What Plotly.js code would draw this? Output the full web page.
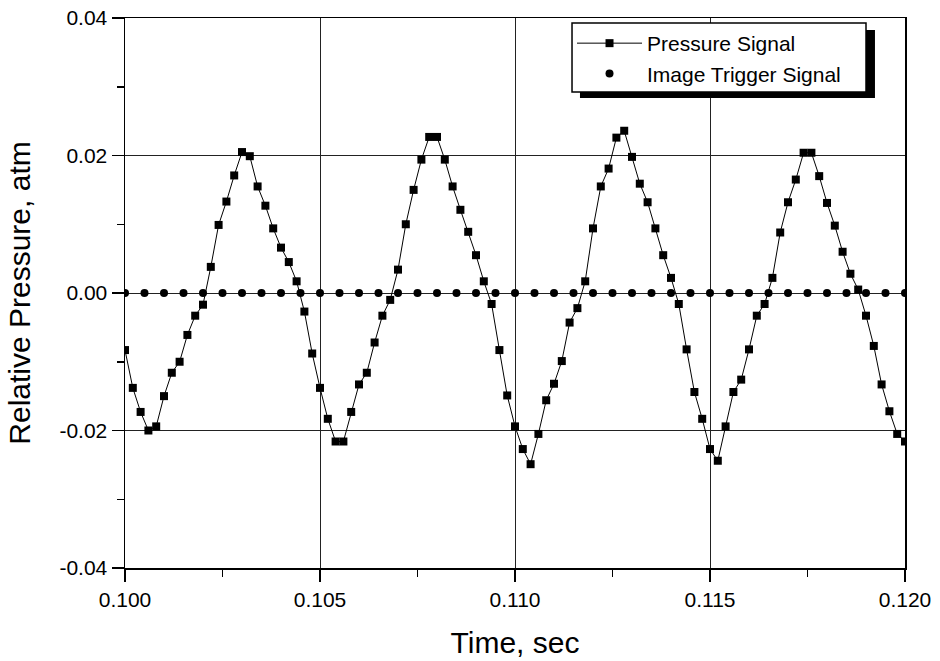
<!DOCTYPE html>
<html>
<head>
<meta charset="utf-8">
<script src="https://cdn.plot.ly/plotly-3.0.1.min.js"></script>
<style>html,body{margin:0;padding:0;background:#fff;}#chart{width:940px;height:661px;}</style>
</head>
<body>
<div id="chart"></div>
<script>
// Pressure signal sampled every 0.2 ms
var pressureTime = [
 0.1000,0.1002,0.1004,0.1006,0.1008,0.1010,0.1012,0.1014,0.1016,0.1018,
 0.1020,0.1022,0.1024,0.1026,0.1028,0.1030,0.1032,0.1034,0.1036,0.1038,
 0.1040,0.1042,0.1044,0.1046,0.1048,0.1050,0.1052,0.1054,0.1056,0.1058,
 0.1060,0.1062,0.1064,0.1066,0.1068,0.1070,0.1072,0.1074,0.1076,0.1078,
 0.1080,0.1082,0.1084,0.1086,0.1088,0.1090,0.1092,0.1094,0.1096,0.1098,
 0.1100,0.1102,0.1104,0.1106,0.1108,0.1110,0.1112,0.1114,0.1116,0.1118,
 0.1120,0.1122,0.1124,0.1126,0.1128,0.1130,0.1132,0.1134,0.1136,0.1138,
 0.1140,0.1142,0.1144,0.1146,0.1148,0.1150,0.1152,0.1154,0.1156,0.1158,
 0.1160,0.1162,0.1164,0.1166,0.1168,0.1170,0.1172,0.1174,0.1176,0.1178,
 0.1180,0.1182,0.1184,0.1186,0.1188,0.1190,0.1192,0.1194,0.1196,0.1198,
 0.1200
];
var pressureValue = [
 -0.0083,-0.0138,-0.0173,-0.0200,-0.0194,-0.0150,-0.0116,-0.0100,-0.0061,-0.0033,
 -0.0017, 0.0038, 0.0099, 0.0133, 0.0171, 0.0205, 0.0199, 0.0155, 0.0127, 0.0094,
  0.0066, 0.0045, 0.0017,-0.0027,-0.0088,-0.0138,-0.0183,-0.0216,-0.0216,-0.0173,
 -0.0133,-0.0116,-0.0072,-0.0033,-0.0010, 0.0034, 0.0100, 0.0150, 0.0194, 0.0227,
  0.0227, 0.0194, 0.0155, 0.0121, 0.0089, 0.0055, 0.0017,-0.0016,-0.0083,-0.0149,
 -0.0194,-0.0227,-0.0249,-0.0205,-0.0156,-0.0132,-0.0099,-0.0043,-0.0022, 0.0017,
  0.0094, 0.0155, 0.0181, 0.0226, 0.0236, 0.0198, 0.0159, 0.0132, 0.0094, 0.0055,
  0.0022,-0.0016,-0.0082,-0.0144,-0.0183,-0.0227,-0.0244,-0.0194,-0.0144,-0.0126,
 -0.0082,-0.0033,-0.0016, 0.0022, 0.0088, 0.0132, 0.0165, 0.0204, 0.0204, 0.0170,
  0.0131, 0.0098, 0.0060, 0.0028, 0.0005,-0.0033,-0.0077,-0.0133,-0.0172,-0.0205,
 -0.0216
];
// Image trigger signal sampled every 0.5 ms
var triggerTime = [
 0.1000,0.1005,0.1010,0.1015,0.1020,0.1025,0.1030,0.1035,0.1040,0.1045,
 0.1050,0.1055,0.1060,0.1065,0.1070,0.1075,0.1080,0.1085,0.1090,0.1095,
 0.1100,0.1105,0.1110,0.1115,0.1120,0.1125,0.1130,0.1135,0.1140,0.1145,
 0.1150,0.1155,0.1160,0.1165,0.1170,0.1175,0.1180,0.1185,0.1190,0.1195,
 0.1200
];
var triggerValue = [
 0,0,0,0,0,0,0,0,0,0,
 0,0,0,0,0,0,0,0,0,0,
 0,0,0,0,0,0,0,0,0,0,
 0,0,0,0,0,0,0,0,0,0,
 0
];
var seriesNames = ["Pressure Signal", "Image Trigger Signal"];
var xTickVals = [0.100, 0.105, 0.110, 0.115, 0.120];
var xTickText = ["0.100", "0.105", "0.110", "0.115", "0.120"];
var yTickVals = [-0.04, -0.02, 0.00, 0.02, 0.04];
var yTickText = ["-0.04", "-0.02", "0.00", "0.02", "0.04"];

var FONT = "Liberation Sans, Arial, sans-serif";

var traces = [
  {
    x: triggerTime, y: triggerValue, name: seriesNames[1],
    type: "scatter", mode: "markers",
    marker: {symbol: "circle", size: 8, color: "#000"}
  },
  {
    x: pressureTime, y: pressureValue, name: seriesNames[0],
    type: "scatter", mode: "lines+markers",
    line: {color: "#000", width: 1},
    marker: {symbol: "square", size: 8, color: "#000"}
  }
];

var layout = {
  width: 940, height: 661,
  margin: {l: 125, r: 35, t: 18, b: 93},
  paper_bgcolor: "#fff", plot_bgcolor: "#fff",
  font: {family: FONT, color: "#000", size: 21},
  showlegend: true,
  legend: {
    traceorder: "reversed",
    x: 0.5731, xanchor: "left", y: 0.9909, yanchor: "top",
    bgcolor: "rgba(0,0,0,0)", borderwidth: 0,
    font: {family: FONT, size: 21, color: "#000"},
    itemwidth: 65
  },
  shapes: [
    // legend drop shadow
    {type: "rect", xref: "paper", yref: "paper", layer: "above",
     x0: 0.5833, x1: 0.9615, y0: 0.8545, y1: 0.978,
     fillcolor: "#000", line: {width: 0}},
    // legend box
    {type: "rect", xref: "paper", yref: "paper", layer: "above",
     x0: 0.5731, x1: 0.950, y0: 0.8655, y1: 0.9909,
     fillcolor: "#fff", line: {color: "#000", width: 1.5}}
  ],
  xaxis: {
    range: [0.100, 0.120],
    tickvals: xTickVals, ticktext: xTickText,
    ticks: "outside", ticklen: 12, tickwidth: 1.5, tickcolor: "#000",
    minor: {dtick: 0.0025, ticks: "outside", ticklen: 7, tickcolor: "#000", showgrid: false},
    showline: true, linecolor: "#000", linewidth: 1.5, mirror: true,
    showgrid: true, gridcolor: "#222", gridwidth: 1,
    zeroline: false,
    tickfont: {family: FONT, size: 21},
    title: {text: "Time, sec", font: {family: FONT, size: 30}, standoff: 22}
  },
  yaxis: {
    range: [-0.04, 0.04],
    tickvals: yTickVals, ticktext: yTickText,
    ticks: "outside", ticklen: 12, tickwidth: 1.5, tickcolor: "#000",
    minor: {dtick: 0.01, ticks: "outside", ticklen: 7, tickcolor: "#000", showgrid: false},
    showline: true, linecolor: "#000", linewidth: 1.5, mirror: true,
    showgrid: true, gridcolor: "#222", gridwidth: 1,
    zeroline: false,
    tickfont: {family: FONT, size: 21},
    title: {text: "Relative Pressure, atm", font: {family: FONT, size: 30}, standoff: 20}
  }
};

Plotly.newPlot("chart", traces, layout, {displayModeBar: false, staticPlot: true});
</script>
</body>
</html>
